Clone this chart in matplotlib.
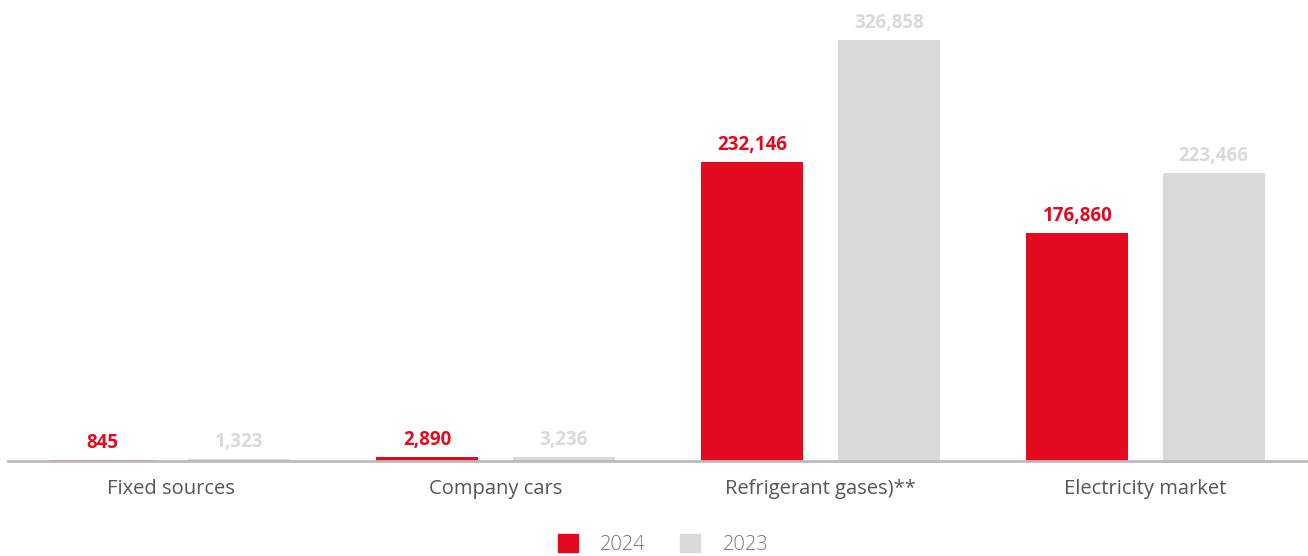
import matplotlib.pyplot as plt
from matplotlib.patches import Patch
import numpy as np

plt.rcParams['font.family'] = ['Open Sans', 'DejaVu Sans']

# data
categories = ['Fixed sources', 'Company cars', 'Refrigerant gases)**', 'Electricity market']
vals_2024 = [845, 2890, 232146, 176860]
vals_2023 = [1323, 3236, 326858, 223466]
years = ['2024', '2023']

red = '#E30A1F'
grey = '#D9D9D9'

fig = plt.figure(figsize=(13.08, 5.56), dpi=100)
ax = fig.add_axes([8/1308, 95/556, 1300/1308, 461/556])

x = np.arange(len(categories))
w = 0.314
off = 0.21
b1 = ax.bar(x - off, vals_2024, w, color=red)
b2 = ax.bar(x + off, vals_2023, w, color=grey)

for bars, vals, c in [(b1, vals_2024, red), (b2, vals_2023, grey)]:
    for r, v in zip(bars, vals):
        ax.annotate(f'{v:,}', (r.get_x() + r.get_width()/2, v),
                    xytext=(0, 5), textcoords='offset points',
                    ha='center', va='bottom', color=c,
                    fontsize=13.5, fontweight='bold')

ax.set_xlim(-0.5, 3.5)
ax.set_ylim(0, 326858 * 461 / 421)
ax.set_xticks(x)
ax.set_xticklabels(categories, fontsize=14.5, color='#555555')
ax.tick_params(axis='x', length=0, pad=13)
ax.set_yticks([])
for s in ['top', 'right', 'left']:
    ax.spines[s].set_visible(False)
ax.spines['bottom'].set_color('#BBBBBB')
ax.spines['bottom'].set_linewidth(2)

handles = [Patch(color=red), Patch(color=grey)]
leg = fig.legend(handles, years, loc='center', bbox_to_anchor=(0.507, 0.02),
                 ncol=2, frameon=False, fontsize=14.5, handlelength=1.0,
                 handleheight=1.0, columnspacing=1.7, handletextpad=1.1)
for t in leg.get_texts():
    t.set_color('#777777')
    t.set_fontweight('light')

fig.savefig('out.png', dpi=100)
